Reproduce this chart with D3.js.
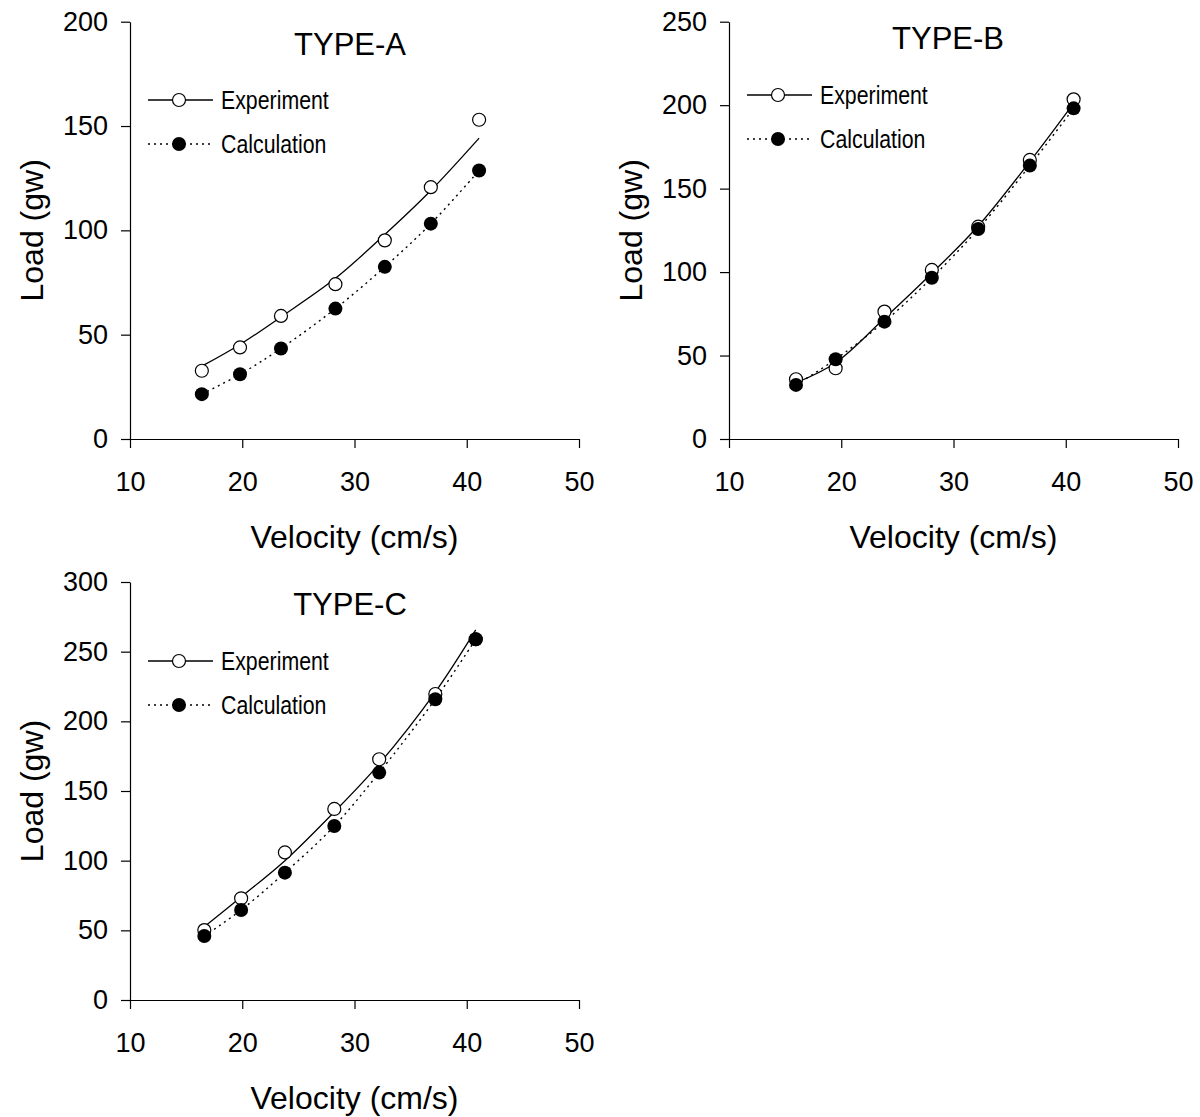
<!DOCTYPE html>
<html><head><meta charset="utf-8">
<script src="https://cdn.jsdelivr.net/npm/d3@7"></script>
<style>
body{margin:0;background:#fff;}
svg text{font-family:"Liberation Sans",Arial,sans-serif;fill:#000;}
</style></head>
<body>
<svg id="chart" width="1200" height="1117"></svg>
<script>
// ---- data ----
const xTicks = [10, 20, 30, 40, 50];
const legendLabels = ["Experiment", "Calculation"];

// TYPE-A
const velA = [16.4, 19.8, 23.45, 28.3, 32.7, 36.8, 41.1];
const expA = [32.7, 43.9, 59.0, 74.2, 95.2, 120.7, 153.0];
const calA = [21.5, 31.0, 43.4, 62.5, 82.5, 103.2, 128.7];
const fitExpA = [34.9, 45.3, 58.5, 77.0, 98.0, 119.1, 144.2];
const yTicksA = [0, 50, 100, 150, 200];

// TYPE-B
const velB = [15.97, 19.5, 23.85, 28.07, 32.2, 36.8, 40.7];
const expB = [35.8, 42.4, 76.3, 101.3, 127.2, 167.2, 203.5];
const calB = [32.4, 47.8, 70.3, 96.6, 125.8, 163.8, 198.1];
const fitExpB = [33.7, 45.7, 72.3, 99.3, 127.6, 166.2, 201.1];
const yTicksB = [0, 50, 100, 150, 200, 250];

// TYPE-C
const velC = [16.62, 19.9, 23.8, 28.2, 32.2, 37.2, 40.8];
const expC = [50.2, 73.0, 105.9, 137.1, 172.8, 219.6, 258.9];
const calC = [45.9, 64.6, 91.4, 124.9, 163.2, 215.9, 258.9];
const fitExpC = [52.6, 74.0, 100.0, 135.0, 169.5, 221.0, 265.6];
const yTicksC = [0, 50, 100, 150, 200, 250, 300];

const panels = [
  {title:"TYPE-A", vel:velA, exp:expA, cal:calA, fit:fitExpA, yTicks:yTicksA,
   x0:130, x1:579, y0:439, y1:21.7, titleX:350, titleY:55, legY:100, legX:148},
  {title:"TYPE-B", vel:velB, exp:expB, cal:calB, fit:fitExpB, yTicks:yTicksB,
   x0:729, x1:1178, y0:439, y1:21.7, titleX:948, titleY:49, legY:95, legX:747},
  {title:"TYPE-C", vel:velC, exp:expC, cal:calC, fit:fitExpC, yTicks:yTicksC,
   x0:130, x1:579, y0:1000, y1:582, titleX:350, titleY:615, legY:661, legX:148}
];

const svg = d3.select("#chart");

panels.forEach(p => {
  const g = svg.append("g");
  const x = d3.scaleLinear().domain([10, 50]).range([p.x0, p.x1]);
  const y = d3.scaleLinear().domain([0, d3.max(p.yTicks)]).range([p.y0, p.y1]);

  const xAxis = g.append("g").attr("transform", `translate(0,${p.y0})`)
    .call(d3.axisBottom(x).tickValues(xTicks).tickSize(9).tickSizeOuter(0).tickPadding(19));
  const yAxis = g.append("g").attr("transform", `translate(${p.x0},0)`)
    .call(d3.axisLeft(y).tickValues(p.yTicks).tickSize(9).tickSizeOuter(0).tickPadding(13));
  [xAxis, yAxis].forEach(a => {
    a.selectAll("path,line").attr("stroke", "#000").attr("stroke-width", 1.2);
    a.selectAll("text").attr("font-size", 27).attr("font-family", "Liberation Sans, Arial, sans-serif").attr("fill", "#000");
  });
  xAxis.selectAll("text").attr("dy", "0.9em");

  // axis titles
  g.append("text").attr("x", (p.x0 + p.x1) / 2).attr("y", p.y0 + 109)
    .attr("text-anchor", "middle").attr("font-size", 32).text("Velocity (cm/s)");
  g.append("text")
    .attr("transform", `translate(${p.x0 - 87},${(p.y0 + p.y1) / 2}) rotate(-90)`)
    .attr("text-anchor", "middle").attr("font-size", 32).text("Load (gw)");

  // title
  g.append("text").attr("x", p.titleX).attr("y", p.titleY)
    .attr("text-anchor", "middle").attr("font-size", 31).text(p.title);

  const line = d3.line().x(d => x(d[0])).y(d => y(d[1])).curve(d3.curveCatmullRom.alpha(0.5));

  // fit line (experiment) solid
  g.append("path").datum(p.vel.map((v, i) => [v, p.fit[i]]))
    .attr("d", line).attr("fill", "none").attr("stroke", "#000").attr("stroke-width", 1.3);
  // calculation dotted
  g.append("path").datum(p.vel.map((v, i) => [v, p.cal[i]]))
    .attr("d", line).attr("fill", "none").attr("stroke", "#000").attr("stroke-width", 1.4)
    .attr("stroke-dasharray", "2,4");

  // experiment markers (open)
  g.selectAll(".e").data(p.vel.map((v, i) => [v, p.exp[i]])).enter().append("circle")
    .attr("cx", d => x(d[0])).attr("cy", d => y(d[1])).attr("r", 6.5)
    .attr("fill", "#fff").attr("stroke", "#000").attr("stroke-width", 1.2);
  // calculation markers (filled)
  g.selectAll(".c").data(p.vel.map((v, i) => [v, p.cal[i]])).enter().append("circle")
    .attr("cx", d => x(d[0])).attr("cy", d => y(d[1])).attr("r", 7)
    .attr("fill", "#000");

  // legend
  const lg = g.append("g");
  legendLabels.forEach((lab, i) => {
    const ly = p.legY + i * 44;
    const ln = lg.append("line").attr("x1", p.legX).attr("x2", p.legX + 65)
      .attr("y1", ly).attr("y2", ly).attr("stroke", "#000").attr("stroke-width", i ? 1.4 : 1.3);
    if (i) ln.attr("stroke-dasharray", "2,4");
    lg.append("circle").attr("cx", p.legX + 31).attr("cy", ly).attr("r", i ? 7 : 6.5)
      .attr("fill", i ? "#000" : "#fff").attr("stroke", "#000").attr("stroke-width", i ? 0 : 1.2);
    lg.append("text").attr("transform", `translate(${p.legX + 73},${ly + 9}) scale(0.82,1)`)
      .attr("font-size", 26).text(lab);
  });
});
</script>
</body></html>
